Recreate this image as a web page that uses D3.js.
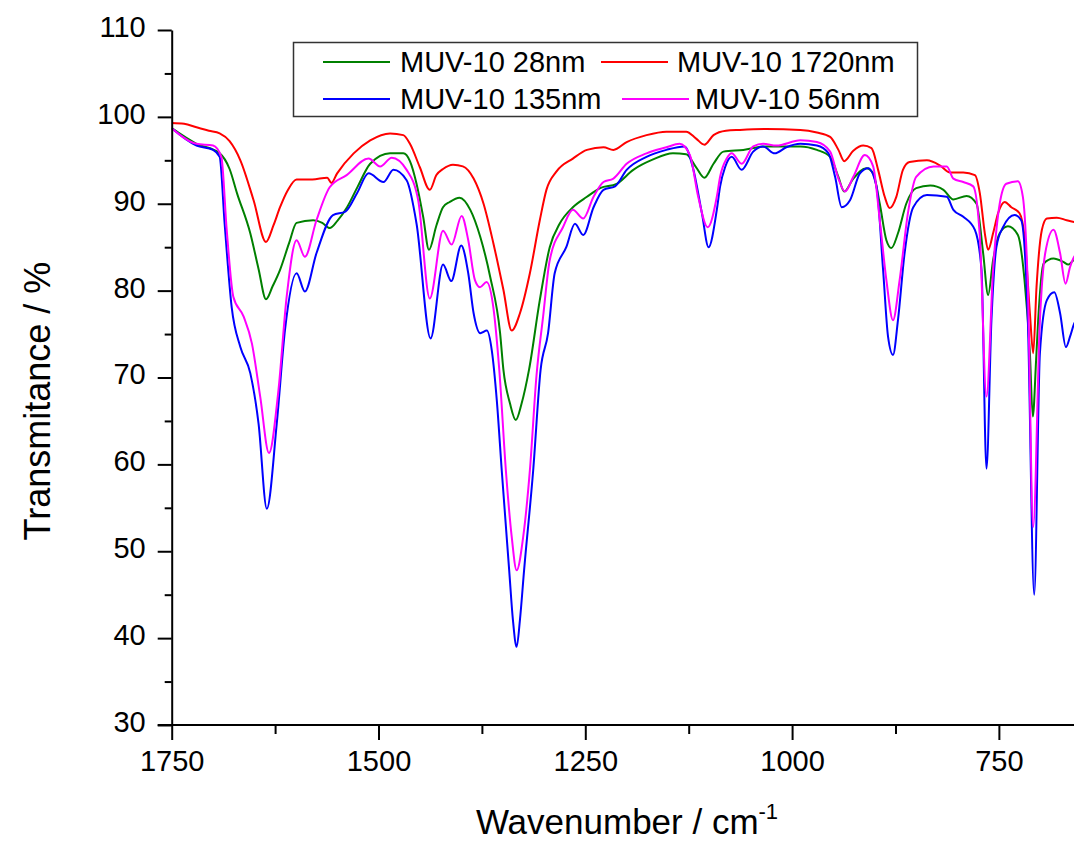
<!DOCTYPE html>
<html>
<head>
<meta charset="utf-8">
<script src="https://cdn.jsdelivr.net/npm/d3@7"></script>
<style>
    body { margin: 0; background: #fff; }
    text { font-family: "Liberation Sans", Arial, sans-serif; fill: #000; }
</style>
</head>
<body>
<div id="chart"></div>
<script>
// --------------------------------------------------
// FTIR spectra of MUV-10 samples

var seriesNames = ["MUV-10 28nm", "MUV-10 1720nm", "MUV-10 135nm", "MUV-10 56nm"];
var seriesColors = ["#008000", "#ff0000", "#0000ff", "#ff00ff"];

var xMajorTicks = [1750, 1500, 1250, 1000, 750];
var xMinorTicks = [1625, 1375, 1125, 875, 625];
var yMajorTicks = [30, 40, 50, 60, 70, 80, 90, 100, 110];
var yMinorTicks = [35, 45, 55, 65, 75, 85, 95, 105];

// MUV-10 28nm (green)
var wn28 = [1750, 1720, 1692, 1680, 1671, 1655, 1645, 1636, 1628, 1619, 1608, 1599, 1579, 1568, 1559, 1550, 1538, 1525, 1510, 1486,
    1470, 1462, 1454, 1446, 1439, 1430, 1422, 1414, 1402, 1389, 1377, 1365, 1353, 1349, 1341, 1334, 1327, 1318, 1305, 1293,
    1281, 1265, 1248, 1232, 1212, 1192, 1168, 1144, 1128, 1116, 1106, 1095, 1083, 1059, 1031, 990, 970, 954, 944, 937,
    926, 910, 902, 894, 886, 880, 872, 862, 850, 833, 817, 805, 789, 777, 769, 763, 757, 749, 739, 727,
    719, 712.5, 709, 705, 702.5, 696, 684, 672, 666, 659, 650];
var t28 = [98.7, 96.9, 95.8, 94.0, 91.2, 86.6, 82.5, 79.0, 80.5, 82.4, 85.5, 87.8, 88.1, 87.8, 87.2, 88.0, 89.6, 92.0, 94.6, 95.8,
    95.8, 94.9, 92.3, 88.5, 84.7, 87.5, 89.6, 90.2, 90.7, 89.3, 86.2, 81.6, 75.1, 70.9, 67.0, 65.1, 67.0, 70.9, 78.9, 85.0,
    87.7, 89.6, 90.8, 91.8, 92.3, 93.9, 95.1, 95.8, 95.7, 94.2, 93.0, 94.6, 96.0, 96.2, 96.6, 96.6, 96.2, 95.4, 93.1, 91.4,
    92.9, 94.1, 93.5, 90.0, 85.8, 84.9, 86.6, 90.0, 91.8, 92.1, 91.6, 90.5, 90.9, 90.0, 84.3, 79.5, 83.5, 86.6, 87.4, 86.4,
    81.2, 72.8, 65.5, 72.0, 76.6, 83.1, 83.7, 83.3, 83.0, 83.5, 83.4];

// MUV-10 1720nm (red)
var wn1720 = [1750, 1735, 1720, 1705, 1692, 1680, 1667, 1651, 1636, 1627, 1619, 1610, 1599, 1580, 1562, 1557, 1550, 1530, 1510, 1486,
    1470, 1462, 1450, 1438, 1430, 1422, 1410, 1398, 1385, 1373, 1361, 1349, 1339, 1329, 1317, 1305, 1297, 1285, 1265, 1248,
    1228, 1216, 1200, 1176, 1152, 1128, 1116, 1106, 1095, 1080, 1063, 1031, 990, 970, 954, 944, 937, 926, 914, 904,
    896, 888, 882, 874, 866, 858, 837, 821, 809, 793, 779, 773, 767, 763, 757, 751, 743, 735, 725, 719,
    712.5, 708.5, 704.5, 698, 692, 680, 668, 659, 650];
var t1720 = [99.3, 99.2, 98.8, 98.4, 98.1, 97.2, 95.0, 90.4, 85.6, 87.5, 89.6, 91.5, 92.8, 92.8, 93.0, 92.4, 93.5, 95.8, 97.3, 98.1,
    97.9, 96.9, 94.2, 91.6, 93.3, 94.0, 94.5, 94.3, 92.9, 90.0, 85.4, 80.1, 75.4, 77.4, 82.0, 88.1, 91.6, 93.7, 95.2, 96.2,
    96.5, 96.2, 97.1, 97.9, 98.3, 98.3, 97.5, 96.8, 97.9, 98.4, 98.5, 98.6, 98.5, 98.2, 97.7, 96.2, 94.9, 96.1, 96.7, 96.4,
    93.9, 90.8, 89.5, 90.8, 93.9, 94.8, 95.0, 94.4, 93.6, 93.6, 93.3, 91.2, 86.6, 84.7, 86.6, 88.9, 90.2, 89.6, 88.9, 86.2,
    77.4, 72.8, 80.4, 87.0, 88.3, 88.4, 88.1, 87.9, 87.7];

// MUV-10 135nm (blue)
var wn135 = [1750, 1720, 1700, 1692, 1686, 1677.5, 1667, 1655, 1645, 1635, 1623, 1613, 1599, 1589, 1575, 1555, 1540, 1526, 1512, 1494,
    1482, 1466, 1454, 1437, 1422, 1412, 1400, 1391.5, 1385, 1377, 1369, 1363, 1357, 1351, 1342, 1337.5, 1333, 1329, 1324, 1313,
    1304, 1295, 1287, 1273, 1262.5, 1252.5, 1240, 1228, 1214, 1200, 1176, 1152, 1130, 1120, 1109, 1101, 1091, 1087, 1081, 1073,
    1061, 1047, 1035, 1021, 1007, 990, 970, 956, 948, 940, 930, 918, 908, 898, 890, 884, 878, 872, 864, 853.5,
    837, 813, 805, 793, 779, 771, 765, 759, 753, 745, 731, 723, 715, 707.3, 700.4, 692, 683, 676, 669, 664,
    659, 650];
var t135 = [98.7, 96.7, 96.2, 95.4, 87.7, 78.1, 73.5, 70.5, 64.7, 54.9, 64.7, 75.5, 82.0, 79.9, 84.3, 88.7, 89.1, 91.2, 93.5, 92.5,
    93.9, 92.7, 87.7, 74.5, 83.0, 81.1, 85.2, 82.0, 77.4, 75.1, 75.4, 73.1, 67.4, 59.3, 47.8, 42.1, 39.0, 42.1, 47.8, 59.3,
    70.9, 75.1, 82.0, 85.0, 87.7, 86.4, 89.6, 91.6, 92.0, 93.9, 95.4, 96.2, 96.6, 94.2, 88.9, 85.0, 89.3, 92.0, 94.2, 95.4,
    93.9, 96.0, 96.6, 95.8, 96.5, 96.9, 96.7, 95.8, 93.1, 89.6, 90.4, 93.5, 94.1, 92.0, 82.4, 74.7, 72.6, 76.6, 84.3, 89.6,
    91.0, 90.8, 89.3, 88.5, 87.0, 82.4, 59.5, 76.6, 85.0, 87.3, 88.7, 88.1, 76.6, 45.0, 72.8, 78.9, 79.8, 77.4, 73.5, 74.7,
    76.2, 77.2];

// MUV-10 56nm (magenta)
var wn56 = [1750, 1720, 1700, 1690, 1683.5, 1675.5, 1663, 1653, 1643, 1632.4, 1621, 1611, 1599, 1589, 1575, 1559, 1538.5, 1512, 1498, 1484,
    1466, 1452, 1438, 1422, 1411.6, 1399.5, 1391.5, 1383.4, 1377.4, 1369.3, 1361.2, 1354, 1346, 1339, 1333, 1325, 1317, 1309, 1301, 1293,
    1277, 1265, 1252.5, 1240, 1228, 1216, 1200, 1176, 1152, 1136, 1123.5, 1113.5, 1102, 1091, 1087, 1079, 1073, 1061, 1047, 1035,
    1019, 990, 970, 954, 944, 936, 926, 912, 902, 894, 886, 878, 870, 860, 850, 829, 813, 805, 793, 781,
    773, 765, 757, 749, 741, 727, 721, 715, 708.5, 700.4, 694, 684, 676, 669.4, 664, 659, 650];
var t56 = [98.7, 96.9, 96.7, 95.4, 87.0, 79.3, 77.0, 73.9, 67.8, 61.3, 68.5, 79.3, 85.8, 83.9, 88.1, 91.9, 93.3, 95.2, 94.3, 95.3,
    93.9, 90.4, 79.1, 86.9, 85.3, 88.6, 85.8, 81.2, 80.4, 81.0, 78.1, 70.9, 59.3, 51.7, 47.8, 51.7, 59.3, 70.2, 77.0, 83.5,
    87.3, 89.3, 88.3, 90.8, 92.5, 92.9, 94.6, 95.8, 96.5, 96.9, 95.6, 90.8, 87.3, 90.8, 93.1, 95.2, 95.8, 94.6, 96.6, 96.9,
    96.7, 97.3, 97.1, 96.0, 92.9, 91.4, 93.1, 95.6, 94.3, 88.1, 81.2, 76.6, 81.2, 88.9, 93.1, 94.3, 94.3, 92.9, 92.5, 92.0,
    86.2, 67.8, 82.4, 90.0, 92.3, 92.6, 90.8, 80.4, 52.8, 76.6, 84.3, 87.0, 84.3, 80.8, 82.7, 83.9, 84.6];

var seriesWn = [wn28, wn1720, wn135, wn56];
var seriesT = [t28, t1720, t135, t56];

var W = 1074, H = 841;
var margin = { left: 171.7, top: 30 };
var plotRight = 1081.6, plotBottom = 725;

var svg = d3.select("#chart")
    .append("svg")
    .attr("width", W)
    .attr("height", H);

var x = d3.scaleLinear()
    .domain([1750, 650])
    .range([margin.left, plotRight]);

var y = d3.scaleLinear()
    .domain([30, 110])
    .range([plotBottom, margin.top]);

// clip for the spectra
svg.append("defs").append("clipPath")
    .attr("id", "plotclip")
    .append("rect")
    .attr("x", margin.left)
    .attr("y", margin.top)
    .attr("width", plotRight - margin.left)
    .attr("height", plotBottom - margin.top);

// spectra
var line = d3.line()
    .x(function(d) { return x(d[0]); })
    .y(function(d) { return y(d[1]); })
    .curve(d3.curveMonotoneX);

var gLines = svg.append("g").attr("clip-path", "url(#plotclip)");
seriesNames.forEach(function(name, i) {
    var pts = seriesWn[i].map(function(w, j) { return [w, seriesT[i][j]]; });
    gLines.append("path")
        .datum(pts)
        .attr("fill", "none")
        .attr("stroke", seriesColors[i])
        .attr("stroke-width", 2)
        .attr("stroke-linejoin", "round")
        .attr("d", line);
});

// x axis
svg.append("g")
    .attr("class", "x-axis")
    .attr("transform", "translate(0," + plotBottom + ")")
    .call(d3.axisBottom(x).tickValues(xMajorTicks).tickSize(15).tickSizeOuter(0)
        .tickFormat(d3.format("d")));
svg.append("g")
    .attr("transform", "translate(0," + plotBottom + ")")
    .call(d3.axisBottom(x).tickValues(xMinorTicks).tickSize(9).tickSizeOuter(0).tickFormat(""))
    .call(function(g) { g.select(".domain").remove(); });

// y axis
svg.append("g")
    .attr("class", "y-axis")
    .attr("transform", "translate(" + margin.left + ",0)")
    .call(d3.axisLeft(y).tickValues(yMajorTicks).tickSize(14).tickSizeOuter(0).tickPadding(12)
        .tickFormat(d3.format("d")));
svg.append("g")
    .attr("transform", "translate(" + margin.left + ",0)")
    .call(d3.axisLeft(y).tickValues(yMinorTicks).tickSize(7).tickSizeOuter(0).tickFormat(""))
    .call(function(g) { g.select(".domain").remove(); });

svg.selectAll(".domain, .tick line")
    .attr("stroke", "#000")
    .attr("stroke-width", 2);
svg.selectAll(".x-axis .domain").attr("d", "M" + (margin.left - 14) + ",0H" + W);
svg.selectAll(".tick text")
    .attr("font-size", "29px")
    .attr("font-family", "Liberation Sans, Arial, sans-serif")
    .attr("fill", "#000");
svg.selectAll(".x-axis .tick text").attr("y", 46).attr("dy", 0);
svg.selectAll(".y-axis .tick text").attr("dy", "0.22em");

// axis titles
svg.append("text")
    .attr("x", -401)
    .attr("y", 50)
    .attr("transform", "rotate(-90)")
    .attr("text-anchor", "middle")
    .attr("font-size", "36px")
    .text("Transmitance / %");

var xt = svg.append("text")
    .attr("x", 627)
    .attr("y", 834)
    .attr("text-anchor", "middle")
    .attr("font-size", "35px");
xt.append("tspan").text("Wavenumber / cm");
xt.append("tspan").attr("font-size", "22px").attr("dy", "-15").text("-1");

// legend
var legend = svg.append("g");
legend.append("rect")
    .attr("x", 293.5)
    .attr("y", 42.5)
    .attr("width", 624)
    .attr("height", 74)
    .attr("fill", "#fff")
    .attr("stroke", "#333")
    .attr("stroke-width", 1.5);

var legendPos = [
    { lx: 323, ty: 62, tx: 400 },
    { lx: 601, ty: 62, tx: 677 },
    { lx: 323, ty: 99, tx: 400 },
    { lx: 622, ty: 99, tx: 695 }
];
seriesNames.forEach(function(name, i) {
    var p = legendPos[i];
    legend.append("line")
        .attr("x1", p.lx).attr("x2", p.lx + 67)
        .attr("y1", p.ty).attr("y2", p.ty)
        .attr("stroke", seriesColors[i])
        .attr("stroke-width", 2);
    legend.append("text")
        .attr("x", p.tx)
        .attr("y", p.ty + 10)
        .attr("font-size", "29px")
        .text(name);
});
</script>
</body>
</html>
